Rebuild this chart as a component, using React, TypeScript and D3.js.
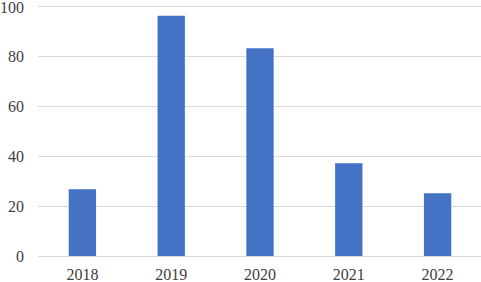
import React from "react";
import * as d3 from "d3";

const categories: string[] = ["2018", "2019", "2020", "2021", "2022"];
const values: number[] = [26.7, 96.1, 83.1, 37.1, 25.1];
const yTicks: number[] = [0, 20, 40, 60, 80, 100];

const W = 481;
const H = 282;

export default function App() {
  const x = d3
    .scaleBand<string>()
    .domain(categories)
    .range([38, 482])
    .paddingInner(0.692)
    .paddingOuter(0.346);
  const y = d3.scaleLinear().domain([0, 100]).range([256, 6]);
  const font = "'Liberation Serif', 'Times New Roman', serif";

  return (
    <svg
      width={W}
      height={H}
      style={{ position: "absolute", left: 0, top: 0, background: "#fff" }}
    >
      {yTicks.map((t) => (
        <g key={t}>
          <line
            x1={38}
            x2={481}
            y1={Math.round(y(t)) + 0.5}
            y2={Math.round(y(t)) + 0.5}
            stroke="#d9d9d9"
            strokeWidth={1}
          />
          <text
            x={24}
            y={Math.max(y(t), 7)}
            dy="0.35em"
            textAnchor="end"
            fontFamily={font}
            fontSize={16}
            fill="#404040"
          >
            {t}
          </text>
        </g>
      ))}
      {categories.map((c, i) => (
        <rect
          key={c}
          x={x(c)}
          y={y(values[i])}
          width={x.bandwidth()}
          height={y(0) - y(values[i])}
          fill="#4472c4"
        />
      ))}
      {categories.map((c) => (
        <text
          key={c}
          x={(x(c) as number) + x.bandwidth() / 2}
          y={279.5}
          textAnchor="middle"
          fontFamily={font}
          fontSize={16}
          fill="#404040"
        >
          {c}
        </text>
      ))}
    </svg>
  );
}
